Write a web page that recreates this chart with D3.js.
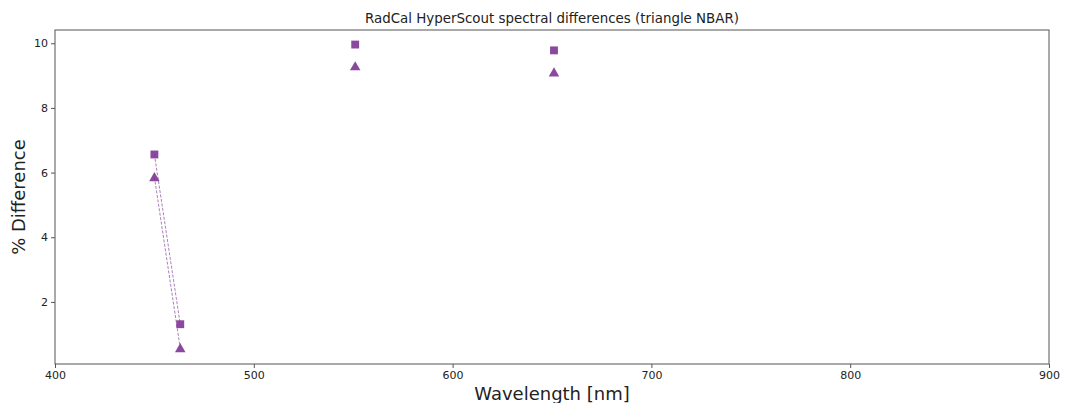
<!DOCTYPE html>
<html>
<head>
<meta charset="utf-8">
<script src="https://cdn.jsdelivr.net/npm/d3@7"></script>
<style>
  body { margin: 0; background: #fff; }
  text { font-family: "DejaVu Sans", sans-serif; fill: #222; }
</style>
</head>
<body>
<svg id="chart" width="1066" height="403"></svg>
<script>
// band centres (nm); null value breaks the line
const wavelengths = [450, 463, 500, 551, 600, 651];
const squareValues = [6.56, 1.31, null, 9.96, null, 9.78];
const triangleValues = [5.86, 0.57, null, 9.29, null, 9.10];
const xTicks = [400, 500, 600, 700, 800, 900];
const yTicks = [2, 4, 6, 8, 10];

const W = 1066, H = 403;
const margin = { left: 55, right: 17, top: 30, bottom: 39 };
const svg = d3.select('#chart');
const color = '#7d3591';

const x = d3.scaleLinear().domain([400, 900]).range([margin.left, W - margin.right]);
const y = d3.scaleLinear().domain([0.08, 10.41]).range([H - margin.bottom, margin.top]);

// axes
const xAxis = svg.append('g')
  .attr('transform', `translate(0,${H - margin.bottom})`)
  .call(d3.axisBottom(x).tickValues(xTicks).tickFormat(d3.format('d')).tickSize(4));
const yAxis = svg.append('g')
  .attr('transform', `translate(${margin.left},0)`)
  .call(d3.axisLeft(y).tickValues(yTicks).tickFormat(d3.format('d')).tickSize(4));
[xAxis, yAxis].forEach(a => {
  a.selectAll('text').style('font-size', '11px').style('font-family', '"DejaVu Sans", sans-serif').attr('fill', '#222');
  a.selectAll('line').attr('stroke', '#555');
  a.select('.domain').remove();
});

// frame
svg.append('rect')
  .attr('x', margin.left).attr('y', margin.top)
  .attr('width', W - margin.left - margin.right)
  .attr('height', H - margin.top - margin.bottom)
  .attr('fill', 'none').attr('stroke', '#555').attr('stroke-width', 1);

// lines
const line = vals => d3.line()
  .defined((d, i) => vals[i] != null)
  .x((d, i) => x(wavelengths[i]))
  .y((d, i) => y(vals[i]))(wavelengths);

[squareValues, triangleValues].forEach(vals => {
  svg.append('path')
    .attr('d', line(vals))
    .attr('fill', 'none')
    .attr('stroke', color)
    .attr('stroke-opacity', 0.8)
    .attr('stroke-width', 0.8)
    .attr('stroke-dasharray', '3,1.5');
});

// markers
const sq = d3.symbol().type(d3.symbolSquare).size(62);
const tri = d3.symbol().type(d3.symbolTriangle).size(48);
wavelengths.forEach((w, i) => {
  if (squareValues[i] != null) {
    svg.append('path').attr('d', sq())
      .attr('transform', `translate(${x(w)},${y(squareValues[i])})`)
      .attr('fill', color).attr('fill-opacity', 0.9);
  }
  if (triangleValues[i] != null) {
    svg.append('path').attr('d', tri())
      .attr('transform', `translate(${x(w)},${y(triangleValues[i]) + 1})`)
      .attr('fill', color).attr('fill-opacity', 0.9);
  }
});

// titles
svg.append('text')
  .attr('x', (margin.left + W - margin.right) / 2).attr('y', 23)
  .attr('text-anchor', 'middle').style('font-size', '13.4px')
  .text('RadCal HyperScout spectral differences (triangle NBAR)');
svg.append('text')
  .attr('x', (margin.left + W - margin.right) / 2).attr('y', 400)
  .attr('text-anchor', 'middle').style('font-size', '18px')
  .text('Wavelength [nm]');
svg.append('text')
  .attr('transform', `translate(25,${(margin.top + H - margin.bottom) / 2}) rotate(-90)`)
  .attr('text-anchor', 'middle').style('font-size', '18px')
  .text('% Difference');
</script>
</body>
</html>
